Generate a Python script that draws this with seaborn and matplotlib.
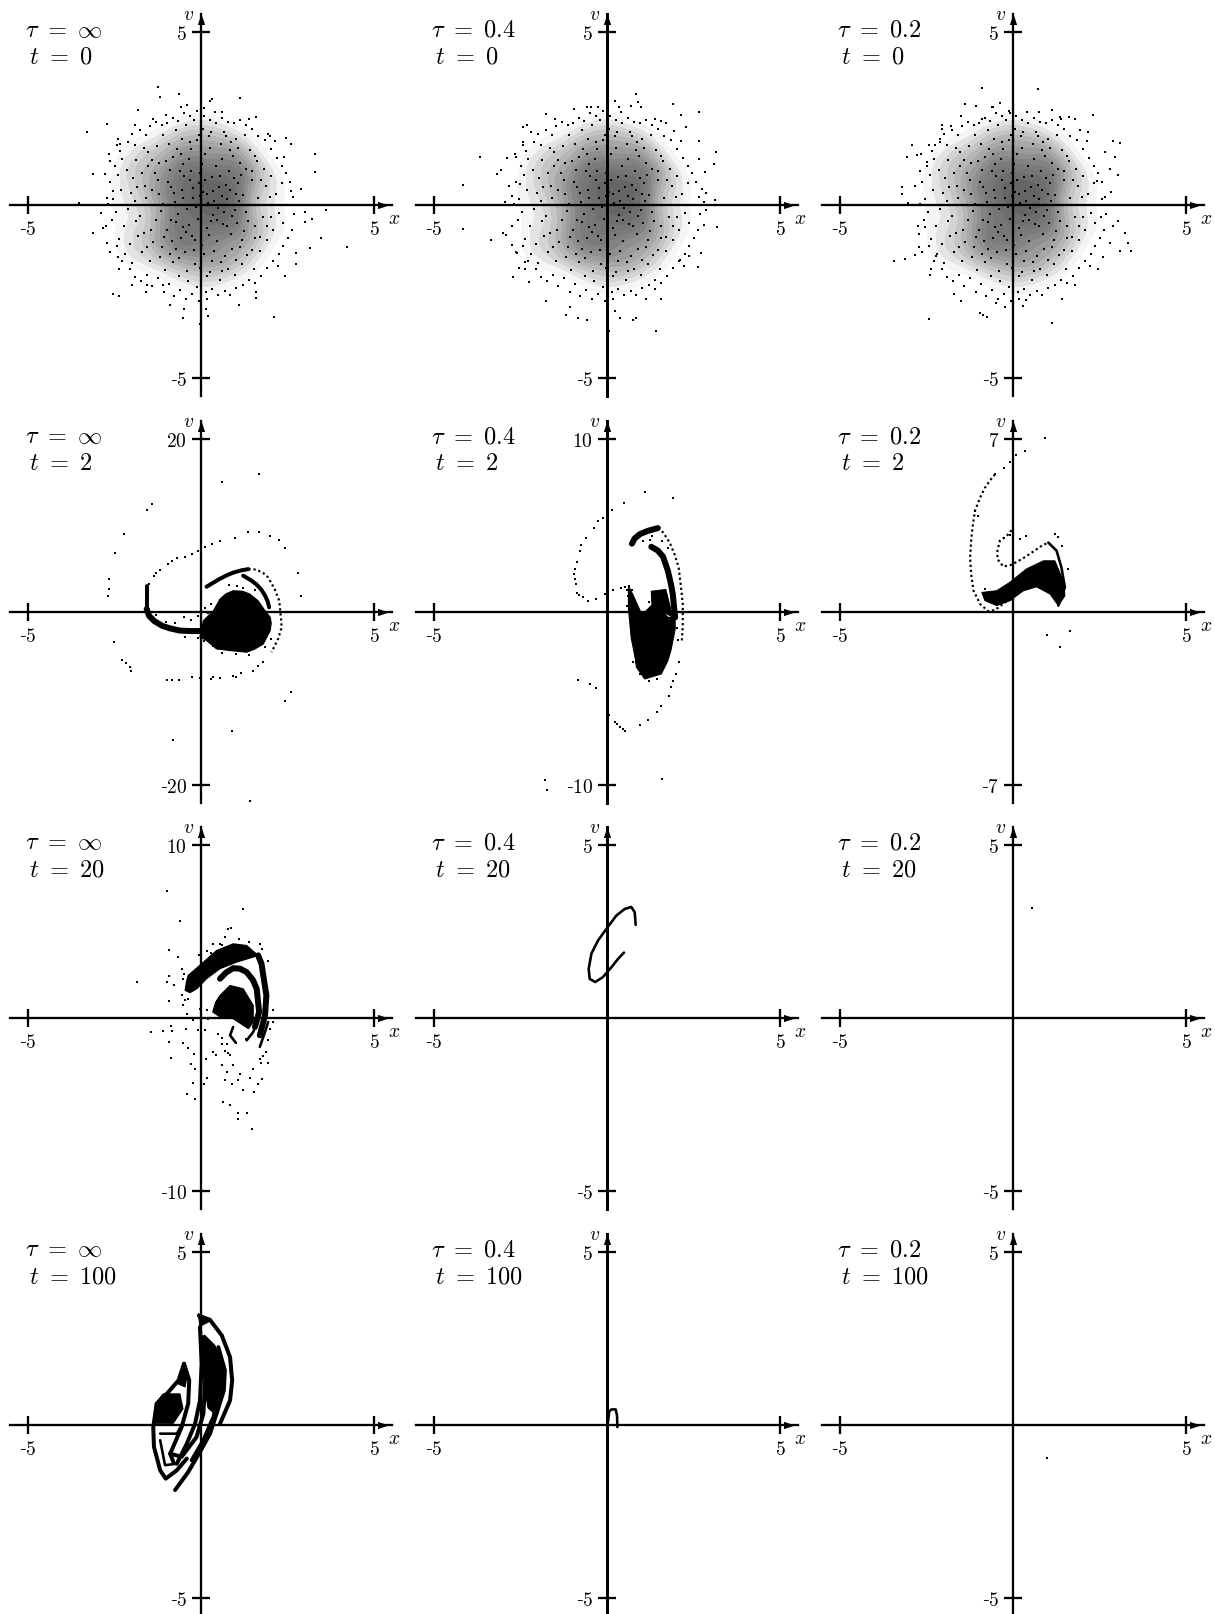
import numpy as np
import matplotlib
matplotlib.use("Agg")
import matplotlib.pyplot as plt
from matplotlib.colors import LinearSegmentedColormap
from matplotlib.path import Path
import seaborn as sns

TAUS = [r"\infty", "0.4", "0.2"]
TIMES = ["0", "2", "20", "100"]
V_SCALES = [[5, 5, 5], [20, 10, 7], [10, 5, 5], [5, 5, 5]]

# t = 0 clouds: the speckle read from the dense middle
CORE = [(-1.9,.12),(-1.62,.55),(-1.75,-.32),(-1.44,-.71),(-1.33,.92),(-1.21,.31),(-1.15,-.18),(-1.02,1.27),(-.96,.66),(-.88,-.44),(-.83,-1.05),(-.74,.08),
(-.69,1.63),(-.61,.97),(-.55,.42),(-.51,-.63),(-.47,-1.36),(-.4,-.12),(-.36,1.34),(-.31,.71),(-.26,-.9),(-.22,.2),(-.17,-1.71),(-.13,1.88),(-.08,-.41),(-.04,.93),
(.03,-1.16),(.07,.38),(.12,1.47),(.16,-.67),(.21,.05),(.26,-1.93),(.31,.82),(.36,-.29),(.42,1.12),(.47,-1.03),(.52,.51),(.58,1.75),(.63,-.55),(.69,-1.48),
(.74,.17),(.81,.99),(.87,-.83),(.93,1.41),(.99,-.14),(1.06,.63),(1.14,-1.22),(1.21,.29),(1.29,1.05),(1.37,-.47),(1.46,.72),(1.55,-.96),(1.66,.21),(1.78,-.36),(1.89,.56),
(-2.31,.44),(-2.22,-.61),(-2.14,1.02),(-2.05,-1.12),(-1.96,.78),(-1.88,1.31),(-1.83,-.89),(-1.71,-1.37),(-1.66,1.64),(-1.52,1.12),(-1.48,-1.62),(-1.38,-1.08),(-1.27,1.71),(-1.19,-1.49),(-1.09,2.03),
(-1.04,-1.87),(-.93,1.76),(-.8,-1.66),(-.72,2.16),(-.64,-2.04),(-.57,1.46),(-.44,2.31),(-.38,-2.19),(-.28,1.62),(-.19,2.47),(-.11,-2.38),(.05,2.21),(.14,-2.51),(.23,1.98),(.33,-1.62),
(.44,2.36),(.54,-2.17),(.66,2.11),(.77,-1.84),(.86,1.83),(.97,-2.02),(1.08,1.64),(1.18,-1.71),(1.27,2.02),(1.34,-1.44),(1.43,1.58),(1.52,-1.86),(1.63,1.27),(1.71,-1.32),(1.82,1.04),
(1.91,-1.02),(2.01,.83),(2.09,-.71),(2.17,.31),(2.26,-.22),(2.33,.64),(2.38,-.53),(-2.46,-.19),(-2.53,.17),(-2.41,.87),(-2.37,-.97),(-2.28,1.32),(-2.19,-1.43),(-1.99,-1.69),(-1.92,1.73),
(-1.58,.21),(-1.31,-.42),(-1.1,.02),(-.98,-.73),(-.77,.34),(-.66,-.27),(-.59,-.94),(-.49,.83),(-.34,-.58),(-.24,.49),(-.14,-.06),(-.06,.64),(.01,-.22),(.09,-1.41),(.18,.31),(.28,-.46),
(.39,.12),(.49,-.09),(.56,.84),(.67,-.21),(.76,-.62),(.84,.43),(.95,.78),(1.03,-.51),(1.11,.12),(1.24,-.76),(-1.43,.43),(-1.24,.71),(-1.07,-.92),(-.86,.52),(-.71,-.49),(-.53,.19),(-.42,-.78),
(-.29,.99),(-.16,-1.02),(-.02,.26),(.11,.72),(.24,-.88),(.34,.41),(.45,-.42),(.61,.26),(.72,.58),(.91,-.33),(1.01,.33),(1.16,.88),(1.31,-.21),(-.73,-1.27),(-.51,1.18),(-.21,-1.31),(.04,1.18),
(.37,-1.33),(.62,1.32),(.89,-1.28),(1.12,1.22),(-1.13,-1.21),(-1.42,1.29),(-.91,1.02),(-.63,-1.52),(-.33,1.82),(-.03,-1.83),(.27,1.66),(.57,-1.66),(.83,1.58),(1.19,-1.02),(1.48,.99),(1.57,-.61)]
# t = 0 clouds: the looser ring round the middle
RING = [(-2.62,.66),(-2.58,-.44),(-2.49,1.12),(-2.44,-1.18),(-2.33,1.56),(-2.27,-1.62),(-2.12,1.83),(-2.06,-1.86),(-1.98,2.04),(-1.9,-2.07),(-1.77,2.18),(-1.74,-2.21),(-1.6,2.02),(-1.56,-2.02),(-1.46,2.27),(-1.41,-2.35),(-1.3,2.41),(-1.24,-2.12),(-1.13,2.31),(-1.07,-2.52),(-.98,2.38),(-.93,-2.28),(-.82,2.52),(-.78,-2.64),(-.66,2.44),(-.6,-2.46),(-.49,2.66),(-.42,-2.71),(-.33,2.58),(-.27,-2.56),(-.12,2.71),(-.07,-2.78),(.09,2.58),(.17,-2.72),(.27,2.47),(.33,-2.42),(.41,2.69),(.5,-2.61),(.6,2.52),(.68,-2.48),(.78,2.41),(.85,-2.61),(.95,2.36),(1.02,-2.39),(1.12,2.47),(1.2,-2.3),(1.31,2.31),(1.38,-2.17),(1.47,2.21),(1.56,-2.26),(1.66,1.98),(1.72,-2.04),(1.85,1.88),(1.9,-1.82),(2.02,1.62),(2.08,-1.63),(2.19,1.36),(2.24,-1.43),(2.33,1.13),(2.38,-1.18),(2.46,.93),(2.5,-.96),(2.58,.66),(2.62,-.72),(2.66,.23),(2.7,-.27),(-2.75,-.62),(-2.7,.02),(-2.67,1.46),(-2.62,-1.36),(-2.42,1.73),(-2.38,-1.86),(2.13,1.85),(2.22,-1.77),(1.38,2.5),(-.57,2.83),
(-2.02,.36),(-2.12,-.12),(-1.84,.51),(-1.88,-.46),(-1.7,.92),(-1.66,-.82),(-1.52,1.52),(-1.56,-1.22),(-1.2,1.22),(-.8,1.4),(1.98,.22),(2.02,-.36),(1.9,-.62),(1.74,.72),(1.7,-.92),(1.55,1.42),(1.46,-1.3),(1.0,1.92),(.72,2.0),(.3,2.12),(-.05,2.03),(-.55,1.92),(-.9,-1.42),(-.4,-1.9),(.16,-2.05),(.6,-1.92),(1.02,-1.6)]
T0_INF = [(-1.25,3.4),(-1.18,3.13),(-.63,3.2),(.32,3.06),(.25,3.0),(1.13,3.09),(-3.3,2.1),(-2.72,2.33),(-1.83,2.74),(1.59,2.53),(3.29,1.47),(3.29,.94),(-3.13,.89),(-2.63,1.28),(4.23,-1.22),(3.48,-.96),(3.6,-.14),(3.14,-1.25),(2.42,-2.04),(2.1,-3.24),(-.03,-3.43),(-.53,-3.27),(-2.53,-2.57),(-2.37,-2.63),(-3.13,-.82),(-3.52,.05),(-2.9,-.22),(-2.78,.9),(-2.72,.2),(-2.53,.4),(-2.83,-.67),(-2.73,-1.1),(-2.4,-1.5),(-2.0,-2.3),(-1.6,-2.5),(-1.55,-2.3),(-1.1,-2.3),(-.9,-2.9),(-.5,-3.0),(.15,-3.0),(.2,-3.2),(1.1,-2.9),(1.6,-2.7),(1.6,-2.5),(2.75,-1.4),(2.75,-1.7),(3.02,-.2),(3.0,-.5),(3.2,-.4),(2.9,.45),(2.6,.4),(2.4,1.4),(2.0,2.0),(2.45,1.95),(2.6,1.75),(1.95,2.05),(.6,2.7),(.1,2.8),(-.4,2.9),(-1.0,2.6),(-1.4,2.5),(-2.35,1.75),(-2.4,1.9),(-1.9,2.3)]
T0_04 = [(.85,3.2),(.89,2.98),(.22,3.0),(1.92,2.93),(2.67,2.7),(2.15,2.6),(-1.75,2.64),(-1.5,2.48),(-2.42,2.24),(-2.3,2.31),(-2.19,2.1),(-2.44,1.81),(-3.67,1.38),(-3.19,.91),(-3.07,1.01),(-2.88,1.35),(-2.63,1.38),(-4.17,.58),(-4.17,-.69),(-3.34,-1.01),(-3.0,-.82),(-2.92,-.88),(-2.74,-1.17),(-2.59,-1.39),(-2.71,-2.09),(-2.55,-1.83),(-2.36,-1.65),(-2.26,-2.23),(-1.75,-2.78),(-1.19,-3.17),(-1.08,-2.95),(-.85,-3.27),(-.59,-3.31),(.22,-3.05),(.39,-3.27),(.75,-3.32),(.85,-3.26),(.05,-3.63),(1.43,-3.64),(1.55,-2.71),(1.12,-2.71),(1.39,-2.42),(2.64,-1.8),(2.72,-1.38),(2.1,-1.6),(2.38,-1.46),(3.18,-.64),(2.79,-.57),(2.87,-.14),(3.11,.15),(2.79,.08),(2.87,.35),(2.75,.46),(2.84,.94),(3.08,1.18),(3.15,1.54),(2.67,1.84),(2.67,1.33),(2.29,2.24),(1.93,2.14),(1.71,2.38),(1.57,2.43),(-2.95,.1),(-2.76,.27),(-2.84,.54),(-2.52,.6),(-.45,2.82),(-.96,2.77),(-.26,2.82),(.7,2.85),(.97,2.82),(.35,2.82)]
T0_02 = [(-.9,3.37),(.72,3.35),(-1.38,2.93),(-1.08,2.85),(-.38,2.94),(-.62,2.82),(1.14,2.74),(2.3,2.6),(-1.51,2.58),(-2.06,2.32),(-2.06,2.21),(-1.8,2.29),(-2.11,1.9),(-2.92,1.74),(-2.25,1.74),(-3.06,1.4),(-2.78,1.44),(-2.49,1.23),(-2.68,.99),(-2.83,.56),(-3.22,.51),(-3.22,.32),(-3.04,.06),(-2.54,-.64),(-2.73,-.84),(-2.73,-1.22),(-2.82,-1.44),(-3.12,-1.56),(-3.43,-1.61),(-2.39,-2.02),(-2.22,-1.46),(-2.44,-3.3),(-.95,-3.12),(-.86,-3.17),(-.76,-3.24),(-1.5,-2.78),(-1.7,-2.57),(-.49,-2.83),(-.23,-2.95),(.3,-2.92),(.38,-2.76),(1.12,-3.41),(1.43,-2.71),(1.79,-2.31),(2.46,-1.85),(2.59,-1.51),(3.42,-1.34),(3.09,-1.34),(3.31,-1.11),(3.23,-.82),(2.8,-1.11),(2.88,-.6),(3.04,-.45),(2.53,-.36),(2.83,.39),(2.58,.17),(3.04,.87),(2.8,1.04),(2.94,1.38),(3.09,1.78),(2.88,1.84),(2.65,1.52),(2.43,.7),(2.17,2.1),(1.95,2.16),(1.79,2.48),(1.63,2.53),(1.36,2.53),(.76,2.69),(-.09,2.67),(-.9,2.48)]

# tau = inf, t = 2
A2_DOTS = [(1.67,16.0),(.6,15.0),(-1.42,12.5),(-1.56,11.8),(-2.22,9.0),(-2.49,6.8),(-2.65,3.8),(-2.65,2.65),(-2.69,1.9),(2.79,4.5),(2.9,1.8),(-2.51,-3.5),(-2.28,-5.5),(-2.16,-5.9),(-2.05,-6.4),(-2.02,-6.8),(2.6,-9.3),(2.42,-10.3),(.89,-13.7),(-.81,-14.8),(1.43,-21.8),
(2.42,7.35),(2.24,8.27),(2.0,8.8),(1.68,9.27),(1.37,9.27),(.99,8.6),(.55,8.2),(.31,7.85),(.12,7.5),(-.08,7.1),(-.27,6.7),(-.46,6.4),(-.70,6.2),(-.85,5.9),(-.94,5.5),(-1.18,4.9),(-1.3,4.5),(-1.37,4.2),(-1.49,3.2),
(1.8,-5.8),(1.51,-6.77),(1.17,-7.1),(.93,-7.35),(.36,-7.54),(-.03,-7.6),(-.27,-7.54),(-.65,-7.9),(-.85,-7.9),(-.99,-7.85),(1.65,-6.2),(1.0,-7.5),(.3,-7.7),(.55,-7.6),
(-.3,-.9),(-.5,-.6),(-.1,-.5),(-1.3,-.4),(-1.0,-1.1),(-.75,-1.3),(-.45,-2.9),(-.1,-2.95),(.1,-3.4),(.35,-3.9),(.6,-4.7),(1.0,-4.9),(1.4,-4.95),(1.85,-4.1),(2.02,-3.1),(.3,.9),(.12,.5),(.2,-.1),(1.05,3.0),(.8,3.1),(1.2,2.75),(1.55,2.5),(1.75,2.6)]
A2_BLOB = [(.07,-1.0),(.36,.15),(.55,1.5),(.72,2.1),(.93,2.46),(1.2,2.4),(1.41,2.08),(1.65,1.3),(1.85,.15),(2.0,-.6),(2.03,-1.3),(2.0,-2.15),(1.8,-3.7),(1.55,-4.3),(1.32,-4.65),(.84,-4.46),(.45,-4.27),(.16,-3.3),(-.03,-2.9)]
A2_LEFT_UP = [(-1.57,3.0),(-1.57,2.3),(-1.57,1.3),(-1.57,.35)]
A2_LEFT = [(-1.57,.35),(-1.5,-.45),(-1.35,-1.05),(-1.12,-1.6),(-.89,-1.9),(-.61,-2.15),(-.32,-2.2),(.07,-2.2)]
A2_ARC_A = [(.16,2.92),(.36,3.4),(.55,3.85),(.75,4.25),(.93,4.55),(1.15,4.8),(1.37,4.96)]
A2_ARC_B = [(1.22,4.2),(1.45,3.65),(1.6,3.2),(1.75,2.55),(1.85,1.9),(1.93,1.2),(1.97,.54)]
A2_ARC_C = [(1.37,4.96),(1.6,4.9),(1.8,4.5),(1.94,4.0),(2.13,2.65),(2.26,1.3),(2.31,-.6),(2.33,-1.77),(2.23,-3.1),(2.04,-4.65)]

# tau = 0.4, t = 2
B2_DOTS = [(1.11,6.96),(1.91,6.6),(.48,6.3),(.14,5.9),(-.12,5.46),(-.26,5.27),(-.38,4.85),(-.6,4.25),(-.74,3.9),(-.79,3.54),(-.88,2.87),(-.95,2.19),(-.91,1.6),(-.88,1.08),(-.69,.85),(-.55,.65),(-.31,.75),(-.07,1.04),(.17,1.27),(.41,1.38),(.65,1.52),
(-.83,-3.94),(-.5,-4.15),(-.31,-4.38),(-1.8,-9.73),(-1.72,-10.3),(1.58,-9.65),(.05,-5.98),(.22,-6.37),(.37,-6.62),(.51,-6.88),(.94,-6.56),(1.18,-6.27),(1.44,-5.79),(1.57,-5.46),(1.78,-4.83),(1.86,-4.35),(2.0,-3.58),(2.07,-2.9),(-.93,2.5),(-.93,1.9),(-.8,.98),(.3,-6.5),(.45,-6.75),(1.92,-4.0),
(1.38,1.04),(1.5,.75),(1.2,.6),(1.6,.3),(.52,1.45),(.58,1.3),(.72,1.25),(.6,.95),(.78,.75),(.9,.3),(.58,.35),(.95,-3.6),(1.2,-4.0),(1.45,-3.9),(.75,-2.9),(2.03,-.9),(2.05,-1.6),(1.05,4.1),(1.25,4.15),(1.3,4.4),(1.6,4.1),(1.75,3.7)]
B2_BLOB = [(1.28,.37),(1.52,.27),(1.76,-.31),(1.97,-.31),(1.97,-1.0),(1.85,-2.2),(1.76,-2.81),(1.57,-3.58),(1.09,-3.87),(.85,-3.19),(.8,-2.23),(.94,-1.08),(1.04,-.12)]
B2_HAZE_L = [(.62,1.5),(.75,1.0),(.95,.1),(1.04,-.12),(.94,-1.08),(.8,-2.23),(.85,-3.0),(.7,-1.5),(.62,.2)]
B2_HAZE_R = [(1.28,1.2),(1.7,1.3),(1.9,-.3),(1.3,.37)]
B2_TOP = [(.72,3.95),(.8,4.25),(.95,4.5),(1.18,4.69),(1.47,4.85)]
B2_RIGHT = [(1.28,3.77),(1.47,3.55),(1.62,3.2),(1.76,2.38),(1.85,1.6),(1.9,1.04),(1.97,-.31)]
B2_OUTER = [(1.47,4.85),(1.62,4.6),(1.81,4.02),(1.95,3.35),(2.07,2.58),(2.14,1.42),(2.19,.46),(2.19,-.79),(2.16,-1.75)]

# tau = 0.2, t = 2
C2_DOTS = [(.92,7.03),(.35,6.51),(.09,6.35),(-.08,6.08),(-.26,5.84),(-.52,5.57),(1.64,-.78),(.98,-.93),(1.36,-1.43),(1.6,1.74),(1.21,3.15),(1.31,3.04),(1.42,2.68),(.2,2.95),(.39,3.08),(-.1,3.1),(-.25,3.0),(-1.1,4.09),(-1.0,3.9),(-.35,.95),(-.8,.92)]
C2_OUTER = [(-.52,5.57),(-.66,5.33),(-.81,5.03),(-.95,4.63),(-1.1,4.09),(-1.17,3.42),(-1.21,2.88),(-1.24,2.21),(-1.21,1.53),(-1.14,.86),(-.95,.32),(-.71,.03),(-.52,.08),(-.23,.39),(-.03,.52)]
C2_INNER = [(-.04,3.31),(-.18,3.08),(-.38,2.88),(-.45,2.48),(-.45,2.14),(-.28,1.84),(-.04,1.91),(.3,2.18),(.59,2.45),(.83,2.68),(1.02,2.81)]
C2_HOOK = [(1.02,2.81),(1.26,2.48),(1.4,1.8),(1.5,1.0),(1.31,.26)]
C2_BLOB = [(-.9,.79),(-.47,.86),(-.09,1.2),(.39,1.74),(.88,2.07),(1.21,2.07),(1.45,1.27),(1.5,.66),(1.31,.26),(1.07,.73),(.68,1.02),(.3,.86),(-.09,.46),(-.47,.26),(-.81,.46)]

# tau = inf, t = 20
A20_DOTS = [(-.99,7.33),(-.61,5.6),(1.21,6.31),(.87,5.19),(.79,5.12),(-.93,3.94),(-.67,3.52),(-1.85,2.08),(-.93,2.4),(-.99,2.08),(-.78,1.88),(-.92,.96),(-1.45,-.81),(-1.09,-.75),(-.87,-.46),(-.83,-.77),(-.93,-1.38),(-.87,-2.31),(-.53,-1.44),(-.39,-1.73),(-.2,-2.1),(-.29,-2.67),(-.17,-2.92),(-.24,-3.77),(-.4,-4.42),(-.17,-4.69),(.09,-3.79),(.16,-3.46),(.14,-2.35),(.36,-1.96),(.43,-2.15),(.6,-2.73),(.63,-4.85),(.84,-5.0),(1.06,-5.48),(1.06,-5.85),(1.33,-5.52),(1.47,-6.42),(.74,-3.12),(.69,-3.6),(.9,-3.79),(1.08,-3.6),(1.22,-4.17),(1.41,-3.46),(1.53,-4.27),(1.65,-3.79),(1.75,-3.5),(1.51,-2.92),(1.7,-2.35),(1.94,-2.63),(1.89,-1.96),(.6,-1.48),(.84,-2.15),(.93,-2.73),(1.13,-3.21),(.5,-.9),(.12,-.71),(-.08,-.71),(-.43,-.65),(-.22,-.13),(-.41,.25),(-.51,.73),(-.37,1.12),(-.56,1.31),(-.53,2.27),(-.56,2.85),(-.06,3.67),(.16,3.9),(.36,4.29),(.55,4.29),(.69,4.71),(-.03,.54),(.16,.44),(.21,-.04),(2.09,.44),(2.09,-.23),(1.99,-.62),(1.94,-1.29),(1.72,-2.6),(1.8,-2.2),(.7,-1.9),(.78,-2.0),(1.1,4.55),(1.4,4.4),(1.7,4.3),(1.75,4.0),(1.95,3.3),
(-.5,2.55),(-.45,1.05),(.0,3.05),(.3,3.75),(.6,4.2),(1.6,.0),(1.7,-.5),(1.3,-1.2),(.6,-1.15),(.75,-1.5)]
A20_ARCH = [(-.46,1.6),(-.42,2.1),(-.37,2.46),(.07,3.23),(.45,3.9),(.93,4.29),(1.32,4.19),(1.65,3.62),(1.51,3.52),(1.03,3.23),(.55,2.85),(.16,2.27),(-.12,1.69),(-.32,1.46)]
A20_BLOB = [(.34,.35),(.42,.9),(.55,1.31),(.84,1.88),(1.22,1.69),(1.51,.73),(1.51,-.23),(1.37,-.62),(.93,-.04),(.55,.06)]
A20_MID = [(.55,2.27),(.72,2.62),(.93,2.88),(1.13,2.85),(1.32,2.65),(1.5,2.2),(1.61,1.69),(1.68,.35),(1.56,-.52)]
A20_OUT = [(1.65,3.62),(1.75,3.13),(1.8,2.46),(1.89,1.31),(1.85,.15),(1.7,-1.0)]
A20_S1 = [(.93,-.52),(.84,-1.0),(1.01,-1.44)]
A20_S2 = [(1.32,-1.29),(1.51,-.81),(1.61,-.23)]
A20_S3 = [(1.7,-1.67),(1.85,-.81),(1.94,-.23)]

# tau = inf, t = 100
A100_R1 = [(-.06,3.16),(.26,3.04),(.6,2.59),(.75,2.2),(.84,1.96),(.9,1.29),(.84,.71),(.55,.04)]
A100_R2 = [(-.75,-1.88),(-.37,-1.36),(-.03,-.78),(.26,-.25),(.45,.33),(.66,1.0),(.69,1.58),(.5,2.25)]
A100_R3 = [(-.27,-1.02),(.07,-.44),(.36,.23),(.55,1.0),(.45,1.67)]
A100_R4 = [(-.03,2.83),(.02,1.77),(-.03,.71),(-.17,.04),(-.41,-.54),(-.7,-1.12)]
A100_R5 = [(.07,2.54),(.12,1.29),(.07,.33),(-.13,-.35),(-.56,-.92),(-.89,-.83)]
A100_L1 = [(-.49,1.77),(-.65,1.29),(-.99,.9),(-1.28,.62),(-1.38,-.06),(-1.36,-.63),(-1.18,-1.31),(-1.02,-1.55),(-.7,-1.31),(-.41,-.97)]
A100_L2 = [(-.49,1.77),(-.34,1.29),(-.37,.62),(-.56,-.06),(-.89,-.83),(-.8,-1.07)]
A100_L3 = [(-1.18,-.44),(-1.04,-1.16),(-.7,-1.12)]
A100_L4 = [(-1.18,-.25),(-.7,-.25),(-.5,.1)]
A100_BLOB1 = [(.1,2.6),(.4,2.3),(.62,1.77),(.66,1.2),(.6,.7),(.36,.35),(.2,.5),(.12,1.0),(.07,1.77)]
A100_BLOB2 = [(-1.32,.62),(-1.09,.9),(-.61,.9),(-.52,.47),(-.8,.05),(-1.32,.05)]
A100_BLOB3 = [(-.49,1.77),(-.39,1.48),(-.46,1.1),(-.68,1.2)]
A100_TOP = [(-.08,3.22),(.05,3.12),(.25,3.0),(-.03,2.85)]

# remaining thin filaments and single particles
B20_CURVE = [(.83,2.69),(.80,3.06),(.70,3.21),(.51,3.15),(.27,2.96),(0,2.6),(-.26,2.24),(-.45,1.86),(-.53,1.42),(-.5,1.13),(-.34,1.04),(-.12,1.18),(.13,1.47),(.32,1.71),(.49,1.89)]
B100_CURVE = [(.03,.09),(.06,.38),(.125,.45),(.25,.45),(.29,.28),(.30,-.06)]
C20_DOT = [(.55,3.18)]
C100_DOT = [(.98,-.95)]

W, H = 1215, 1615
ORIG_X = [201, 607, 1013]
ORIG_Y = [206, 613, 1019, 1426]
HALF = 191
UNIT = 173 / 5

PANELS = {
    (1, 0): dict(dots=A2_DOTS, blobs=[A2_BLOB], thick=[A2_LEFT], med=[A2_ARC_A, A2_ARC_B, A2_LEFT_UP], dotted=[A2_ARC_C]),
    (1, 1): dict(dots=B2_DOTS, blobs=[B2_BLOB, B2_HAZE_L, B2_HAZE_R], thick=[B2_TOP, B2_RIGHT], dotted=[B2_OUTER]),
    (1, 2): dict(dots=C2_DOTS, blobs=[C2_BLOB], thin=[C2_HOOK], dotted=[C2_OUTER, C2_INNER]),
    (2, 0): dict(dots=A20_DOTS, blobs=[A20_ARCH, A20_BLOB], thick=[A20_MID, A20_OUT], thin=[A20_S1, A20_S2, A20_S3]),
    (2, 1): dict(thin=[B20_CURVE]),
    (2, 2): dict(dots=C20_DOT),
    (3, 0): dict(blobs=[A100_BLOB1, A100_BLOB2, A100_BLOB3, A100_TOP], med=[A100_R1, A100_L1, A100_L2, A100_R2, A100_R3, A100_R4, A100_R5], thin=[A100_L3, A100_L4]),
    (3, 1): dict(thin=[B100_CURVE]),
    (3, 2): dict(dots=C100_DOT),
}
CLOUDS = {(0, 0): T0_INF, (0, 1): T0_04, (0, 2): T0_02}
THICK_AXIS_COL = 1

sns.set_theme(style="white")
plt.rcParams["font.family"] = ["DejaVu Serif"]
plt.rcParams["mathtext.fontset"] = "cm"

PX = 0.72  # points per pixel at 100 dpi
UP = Path([(-.33, -.5), (.33, -.5), (0, .5), (-.33, -.5)], closed=True)
RIGHT = Path([(-.5, -.33), (.5, 0), (-.5, .33), (-.5, -.33)], closed=True)
GREYS = LinearSegmentedColormap.from_list("g", ["#ffffff", "#c4c4c4", "#808080", "#606060"])

fig = plt.figure(figsize=(W / 100, H / 100), dpi=100, facecolor="white")


def curve(ax, pts, width, style="-"):
    xs, ys = zip(*pts)
    sns.lineplot(x=list(xs), y=list(ys), sort=False, estimator=None, color="black",
                 linewidth=width * PX, linestyle=style, ax=ax, legend=False)


def dots(ax, pts, size=2.8):
    xs, ys = zip(*pts)
    sns.scatterplot(x=list(xs), y=list(ys), s=(size * PX) ** 2, marker="s", color="black",
                    linewidth=0, ax=ax, legend=False)


for r, oy in enumerate(ORIG_Y):
    for c, ox in enumerate(ORIG_X):
        ax = fig.add_axes([(ox - HALF) / W, 1 - (oy + HALF) / H, 2 * HALF / W, 2 * HALF / H])
        ax.patch.set_alpha(0)
        scale = V_SCALES[r][c]
        if (r, c) in CLOUDS:
            pts = CORE + RING + CLOUDS[(r, c)]
            cx, cy = zip(*CORE)
            sns.kdeplot(x=list(cx), y=list(cy), fill=True, levels=14, thresh=0.1, bw_adjust=0.9,
                        cmap=GREYS, ax=ax, zorder=1)
            dots(ax, pts)
        spec = PANELS.get((r, c), {})
        for b in spec.get("blobs", []):
            bx, by = zip(*b)
            ax.fill(bx, by, color="black", lw=0.8, joinstyle="round")
        for name, w, st in (("thick", 6, "-"), ("med", 4, "-"), ("thin", 2.6, "-"), ("dotted", 2.2, (0, (1, 1.3)))):
            for p in spec.get(name, []):
                curve(ax, p, w, st)
        if spec.get("dots"):
            dots(ax, spec["dots"])

        hx = HALF / UNIT
        hy = HALF / UNIT * scale / 5
        ax.set_xlim(-hx, hx)
        ax.set_ylim(-hy, hy)
        for s in ("top", "right"):
            ax.spines[s].set_visible(False)
        vw = 3 if c == THICK_AXIS_COL else 2.3
        ax.spines["left"].set_position("zero")
        ax.spines["bottom"].set_position("zero")
        ax.spines["left"].set_linewidth(vw * PX)
        ax.spines["bottom"].set_linewidth(2.3 * PX)
        for s in ("left", "bottom"):
            ax.spines[s].set_color("black")
            ax.spines[s].set_zorder(5)
        ax.set_xticks([-5, 5], ["-$5$", "$5$"])
        ax.set_yticks([-scale, scale], [f"-${scale}$", f"${scale}$"])
        ax.tick_params(axis="both", direction="inout", length=18 * PX, width=2.3 * PX, color="black",
                       labelsize=14, labelcolor="black", left=True, bottom=True)
        ax.tick_params(axis="x", pad=4)
        ax.tick_params(axis="y", pad=3.5)
        ax.set_xlabel("")
        ax.set_ylabel("")
        ax.grid(False)
        ax.plot([0], [(HALF + 186) / (2 * HALF)], marker=UP, ms=11 * PX, color="black", mew=0,
                transform=ax.get_xaxis_transform(), clip_on=False, zorder=6)
        ax.plot([(HALF + 182) / (2 * HALF)], [0], marker=RIGHT, ms=11 * PX, color="black", mew=0,
                transform=ax.get_yaxis_transform(), clip_on=False, zorder=6)
        ax.text((HALF + 193) / (2 * HALF), (HALF - 13) / (2 * HALF), "$x$", transform=ax.transAxes,
                ha="center", va="center", fontsize=14, color="black")
        ax.text((HALF - 12) / (2 * HALF), (HALF + 191) / (2 * HALF), "$v$", transform=ax.transAxes,
                ha="center", va="center", fontsize=14, color="black")
        ax.text((HALF - 176) / (2 * HALF), (HALF + 176) / (2 * HALF), rf"$\tau\ =\ {TAUS[c]}$",
                transform=ax.transAxes, ha="left", va="center", fontsize=17.5, color="black")
        ax.text((HALF - 172) / (2 * HALF), (HALF + 149) / (2 * HALF), rf"$t\ =\ {TIMES[r]}$",
                transform=ax.transAxes, ha="left", va="center", fontsize=17.5, color="black")

fig.savefig("out.png", dpi=100)
